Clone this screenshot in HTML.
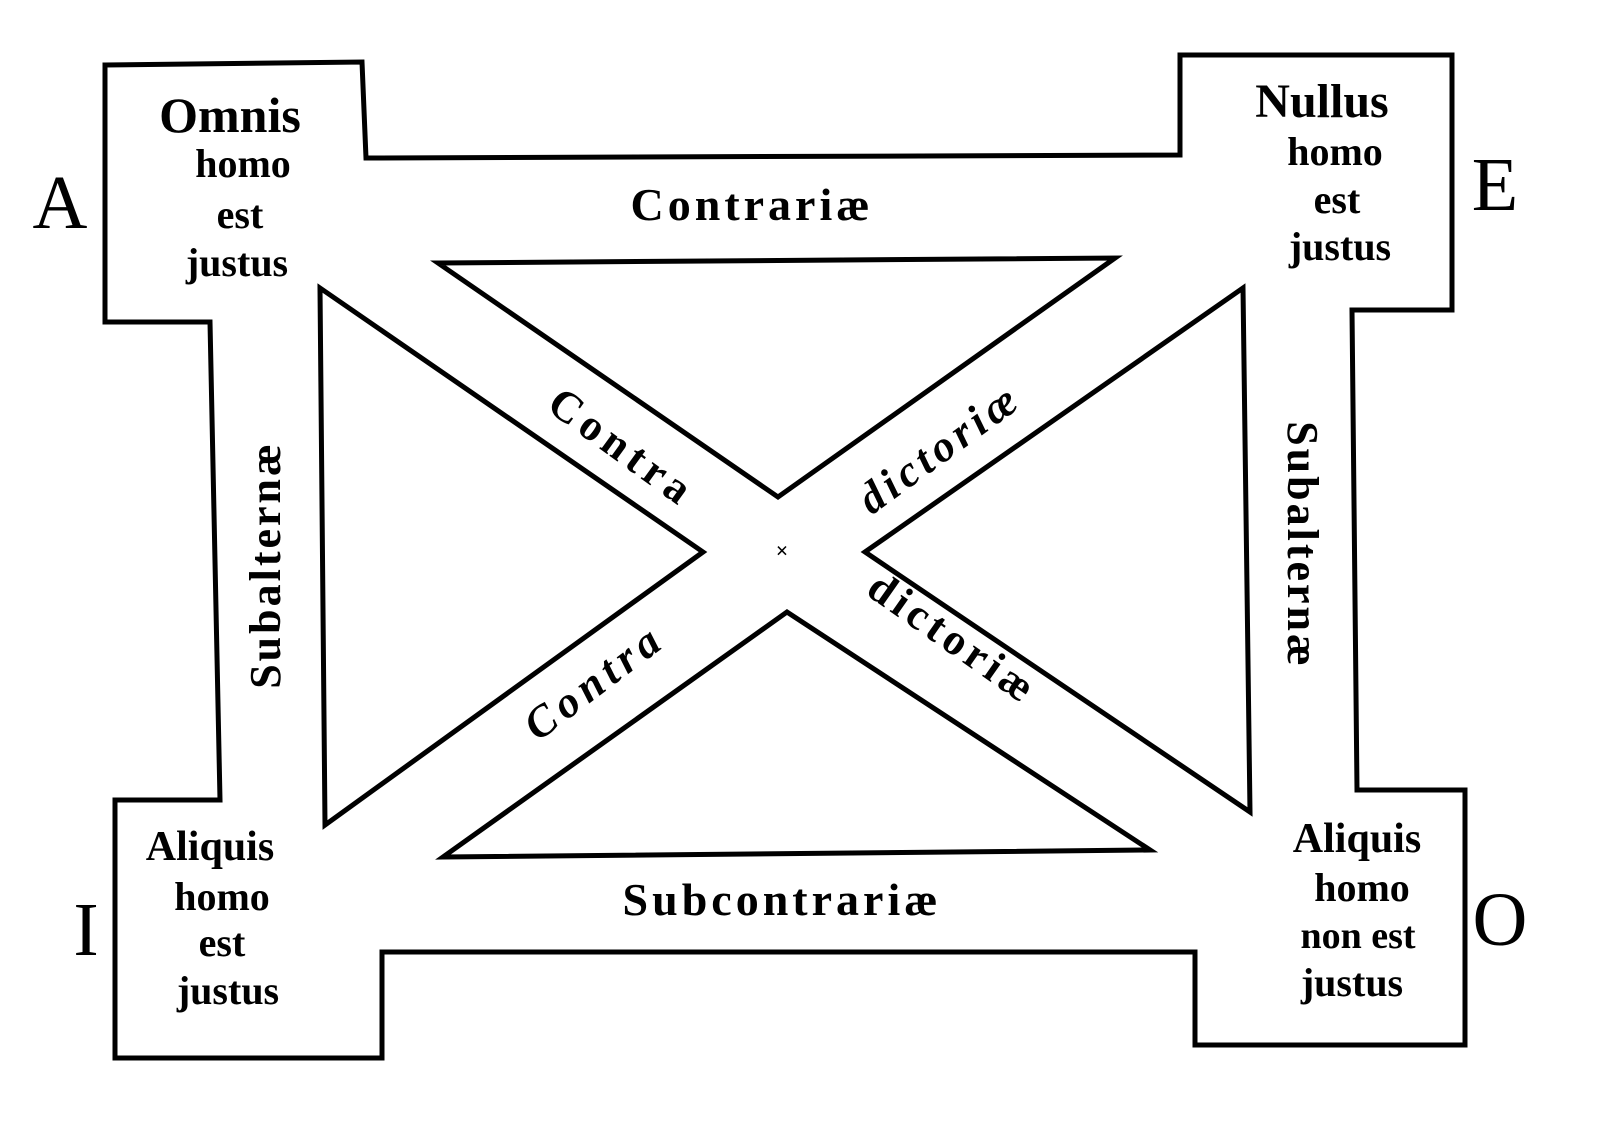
<!DOCTYPE html>
<html><head><meta charset="utf-8"><style>
html,body{margin:0;padding:0;background:#fff;}
svg{display:block;}
text{font-family:"Liberation Serif",serif;fill:#000;}
.b{font-weight:bold;}
</style></head><body>
<svg width="1600" height="1131" viewBox="0 0 1600 1131">
<g fill="none" stroke="#000" stroke-width="5" stroke-linejoin="miter">
<polygon points="105,65 362,62 366,158 1180,155 1180,55 1452,55 1452,310 1352,310 1357,790 1465,790 1465,1045 1195,1045 1195,952 382,952 382,1058 115,1058 115,800 220,800 210,322 105,322"/>
<polygon points="438,263 1115,258 778,497"/>
<polygon points="320,288 703,552 325,825"/>
<polygon points="1243,288 1250,812 865,552"/>
<polygon points="443,857 1150,850 787,612"/>
</g>
<text x="782" y="558" font-size="22" text-anchor="middle" class="b">×</text>
<g class="b" text-anchor="middle">
<text x="230" y="132" font-size="50">Omnis</text>
<text x="243" y="177" font-size="40">homo</text>
<text x="240" y="228" font-size="40">est</text>
<text x="237" y="276" font-size="40">justus</text>
<text x="1322" y="117" font-size="48">Nullus</text>
<text x="1335" y="165" font-size="40">homo</text>
<text x="1337" y="213" font-size="40">est</text>
<text x="1340" y="260" font-size="40">justus</text>
<text x="210" y="860" font-size="42">Aliquis</text>
<text x="222" y="910" font-size="40">homo</text>
<text x="222" y="956" font-size="40">est</text>
<text x="228" y="1004" font-size="40">justus</text>
<text x="1357" y="852" font-size="42">Aliquis</text>
<text x="1362" y="901" font-size="40">homo</text>
<text x="1358" y="948" font-size="38">non est</text>
<text x="1352" y="996" font-size="40">justus</text>
<text x="752" y="220" font-size="46" letter-spacing="4">Contrariæ</text>
<text x="782" y="915" font-size="46" letter-spacing="4">Subcontrariæ</text>
<text transform="translate(280,565) rotate(-90)" font-size="44" letter-spacing="3">Subalternæ</text>
<text transform="translate(1288,545) rotate(90)" font-size="44" letter-spacing="3">Subalternæ</text>
<text transform="translate(614,459) rotate(36)" font-size="44" letter-spacing="6">Contra</text>
<text transform="translate(948,460) rotate(-36)" font-size="44" letter-spacing="5" font-style="italic">dictoriæ</text>
<text transform="translate(603,693) rotate(-37)" font-size="44" letter-spacing="6" font-style="italic">Contra</text>
<text transform="translate(945,650) rotate(35)" font-size="44" letter-spacing="5">dictoriæ</text>
</g>
<g font-size="76" text-anchor="middle">
<text x="60" y="228">A</text>
<text x="1495" y="210">E</text>
<text x="86" y="955">I</text>
<text x="1500" y="945">O</text>
</g>
</svg>
</body></html>
